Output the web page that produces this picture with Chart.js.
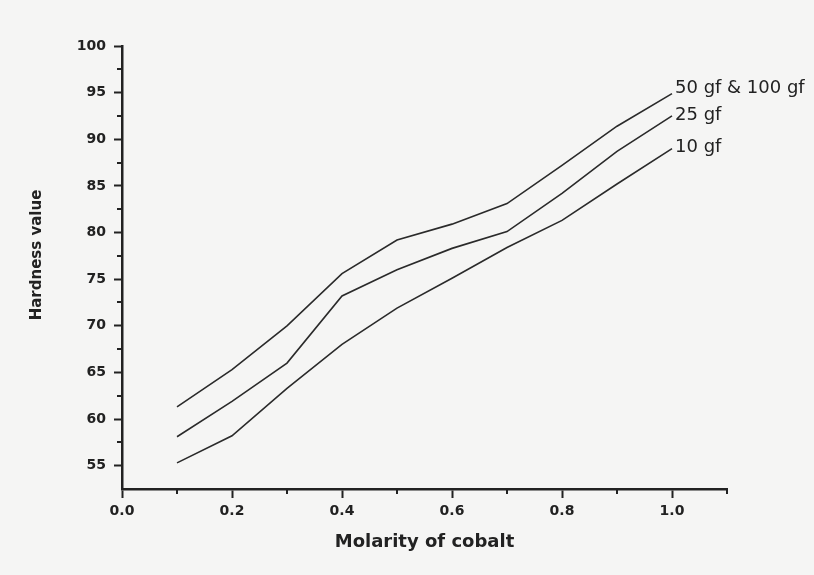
<!DOCTYPE html>
<html>
<head>
<meta charset="utf-8">
<script src="https://cdn.jsdelivr.net/npm/chart.js@4.4.1/dist/chart.umd.min.js"></script>
<style>
  body { margin: 0; background: #f5f5f4; }
  #wrap { width: 814px; height: 575px; }
</style>
</head>
<body>
<div id="wrap"><canvas id="hardChart"></canvas></div>
<script>
// molarity of cobalt
const molarity = [0.1, 0.2, 0.3, 0.4, 0.5, 0.6, 0.7, 0.8, 0.9, 1.0];
// hardness per load
const hard50and100 = [61.3, 65.3, 70.0, 75.6, 79.2, 80.9, 83.1, 87.2, 91.4, 94.9];
const hard25 = [58.1, 61.9, 66.0, 73.2, 76.0, 78.3, 80.1, 84.2, 88.7, 92.5];
const hard10 = [55.3, 58.2, 63.3, 68.0, 71.9, 75.1, 78.4, 81.3, 85.2, 89.0];
const seriesNames = ["50 gf & 100 gf", "25 gf", "10 gf"];
const seriesValues = [hard50and100, hard25, hard10];

const ink = "#222";

function toPoints(vals) {
  return vals.map((v, i) => ({ x: molarity[i], y: v }));
}

// short minor ticks between the labelled ones
const minorTicks = {
  id: "minorTicks",
  afterDraw(chart) {
    const ctx = chart.ctx;
    const xs = chart.scales.x, ys = chart.scales.y;
    ctx.save();
    ctx.strokeStyle = ink;
    ctx.lineWidth = 2;
    ctx.beginPath();
    for (let v = 0.1; v < 1.15; v += 0.2) {
      const px = Math.round(xs.getPixelForValue(v));
      ctx.moveTo(px, xs.top);
      ctx.lineTo(px, xs.top + 5);
    }
    for (let v = 57.5; v < 100; v += 5) {
      const py = Math.round(ys.getPixelForValue(v));
      ctx.moveTo(ys.right, py);
      ctx.lineTo(ys.right - 5, py);
    }
    ctx.stroke();
    ctx.restore();
  },
};

// labels at the end of each curve + y axis title
const lineLabels = {
  id: "lineLabels",
  afterDatasetsDraw(chart) {
    const ctx = chart.ctx;
    ctx.save();
    ctx.fillStyle = ink;
    ctx.font = "18px 'DejaVu Sans'";
    ctx.textBaseline = "middle";
    ctx.textAlign = "left";
    chart.data.datasets.forEach((ds, i) => {
      const pts = chart.getDatasetMeta(i).data;
      const last = pts[pts.length - 1];
      const lift = i === 0 ? 5 : 1;
      ctx.fillText(ds.label, last.x + 3, last.y - lift);
    });
    ctx.font = "bold 15px 'DejaVu Sans'";
    ctx.textAlign = "center";
    ctx.translate(37, 255);
    ctx.rotate(-Math.PI / 2);
    ctx.fillText("Hardness value", 0, 0);
    ctx.restore();
  },
};

new Chart(document.getElementById("hardChart"), {
  type: "line",
  data: {
    datasets: seriesNames.map((name, i) => ({
      label: name,
      data: toPoints(seriesValues[i]),
      borderColor: "#2a2a2a",
      borderWidth: 1.6,
      pointRadius: 0,
      tension: 0,
      fill: false,
    })),
  },
  options: {
    responsive: true,
    maintainAspectRatio: false,
    animation: false,
    layout: { padding: { left: 0, top: 46, right: 87, bottom: 0 } },
    plugins: { legend: { display: false }, tooltip: { enabled: false } },
    scales: {
      x: {
        type: "linear",
        min: 0,
        max: 1.1,
        afterFit: (scale) => { scale.height = 86; },
        border: { display: true, color: ink, width: 2.5 },
        grid: { drawOnChartArea: false, drawTicks: true, tickLength: 9, tickColor: ink, tickWidth: 2 },
        ticks: {
          stepSize: 0.2,
          includeBounds: false,
          padding: 5,
          color: ink,
          font: { family: "DejaVu Sans", size: 14, weight: "bold" },
          callback: (v) => v.toFixed(1),
        },
        title: {
          display: true,
          text: "Molarity of cobalt",
          color: ink,
          font: { family: "DejaVu Sans", size: 18, weight: "bold" },
          padding: { top: 0, bottom: 22 },
        },
      },
      y: {
        min: 52.5,
        max: 100,
        afterFit: (scale) => { scale.width = 122; },
        border: { display: true, color: ink, width: 2.5 },
        grid: { drawOnChartArea: false, drawTicks: true, tickLength: 8, tickColor: ink, tickWidth: 2 },
        ticks: {
          stepSize: 5,
          includeBounds: false,
          padding: 8,
          color: ink,
          font: { family: "DejaVu Sans", size: 14, weight: "bold" },
        },
      },
    },
  },
  plugins: [minorTicks, lineLabels],
});
</script>
</body>
</html>
